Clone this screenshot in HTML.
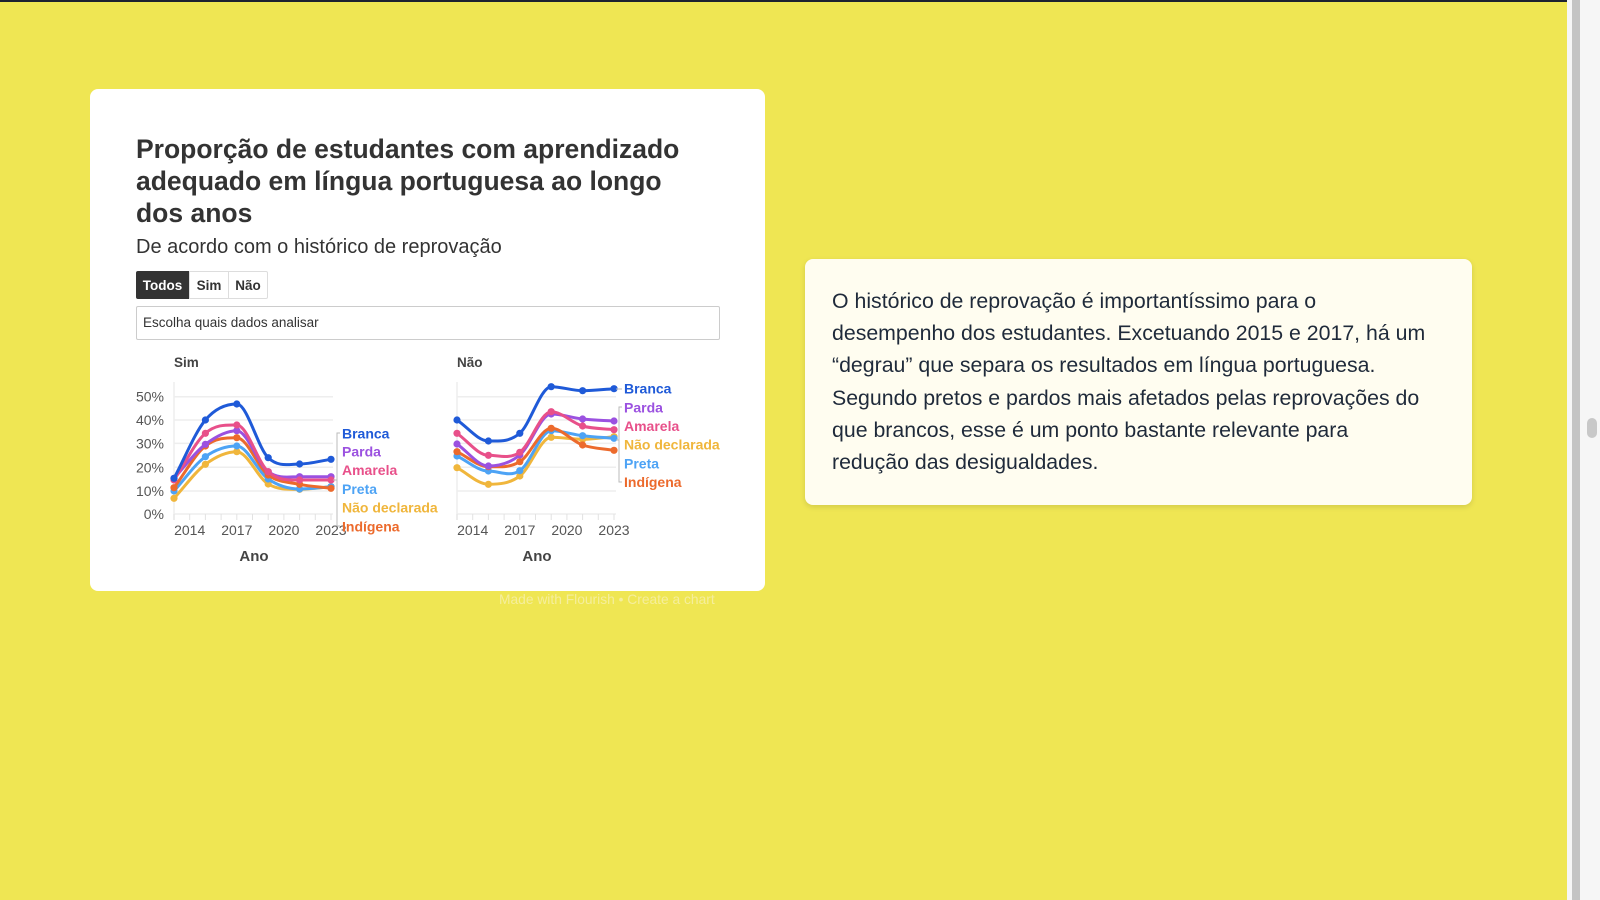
<!DOCTYPE html>
<html><head><meta charset="utf-8">
<style>
html,body{margin:0;padding:0;width:1600px;height:900px;overflow:hidden;background:#efe653;font-family:"Liberation Sans",sans-serif}
.topbar{position:absolute;left:0;top:0;width:1567px;height:2px;background:#1d2230}
.sb{position:absolute;left:1567px;top:0;width:33px;height:900px;background:#f6f6f6}
.sb1{position:absolute;left:1572px;top:0;width:8px;height:900px;background:#c4c4c4}
.thumb{position:absolute;left:1587px;top:418px;width:10px;height:20px;border-radius:5px;background:#c8c8c8}
.card{position:absolute;left:90px;top:89px;width:675px;height:502px;background:#fff;border-radius:8px}
.title{position:absolute;left:136px;top:133px;width:580px;font-size:26.5px;font-weight:bold;line-height:32px;color:#333}
.sub{position:absolute;left:136px;top:236px;font-size:20px;color:#333}
.btn{position:absolute;top:271px;height:28px;line-height:28px;font-size:13.5px;font-weight:bold;text-align:center;border:1px solid #ddd;box-sizing:border-box;color:#333;background:#fff}
.sel{position:absolute;left:136px;top:306px;width:584px;height:34px;border:1px solid #ccc;box-sizing:border-box;border-radius:2px;font-size:13.5px;line-height:32px;padding-left:6px;color:#333}
.note{position:absolute;left:805px;top:259px;width:667px;height:246px;background:#fffdf0;border-radius:8px;box-shadow:0 2px 6px rgba(0,0,0,0.12)}
.note p{position:absolute;left:27px;top:26px;margin:0;font-size:21.3px;line-height:32.2px;color:#1f2a3a;white-space:nowrap}
.made{position:absolute;left:499px;top:592px;font-size:13.8px;color:#f5ee9c}
svg{position:absolute;left:0;top:0}
</style></head><body>
<div class="topbar"></div>
<div class="card"></div>
<div class="title">Proporção de estudantes com aprendizado adequado em língua portuguesa ao longo<br>dos anos</div>
<div class="sub">De acordo com o histórico de reprovação</div>
<div class="btn" style="left:136px;width:53px;background:#333;color:#fff;border-color:#333;border-radius:2px 0 0 2px">Todos</div>
<div class="btn" style="left:189px;width:40px">Sim</div>
<div class="btn" style="left:228px;width:40px;border-radius:0 2px 2px 0">Não</div>
<div class="sel">Escolha quais dados analisar</div>
<svg id="ch" width="1600" height="900" font-family="Liberation Sans, sans-serif"></svg>
<div class="note"><p>O histórico de reprovação é importantíssimo para o<br>desempenho dos estudantes. Excetuando 2015 e 2017, há um<br>“degrau” que separa os resultados em língua portuguesa.<br>Segundo pretos e pardos mais afetados pelas reprovações do<br>que brancos, esse é um ponto bastante relevante para<br>redução das desigualdades.</p></div>
<div class="made">Made with Flourish • Create a chart</div>
<div class="sb"></div><div class="sb1"></div><div class="thumb"></div>
<script>
var s='';
var C={br:'#1f5ad8',pa:'#9b51e0',am:'#e8508a',pr:'#4da3f5',nd:'#f0b63c',in:'#ec6a2c'};
function path(xs,ys){
  var n=xs.length,m=[];
  for(var i=0;i<n;i++){
    if(i==0)m.push((ys[1]-ys[0])/(xs[1]-xs[0]));
    else if(i==n-1)m.push((ys[n-1]-ys[n-2])/(xs[n-1]-xs[n-2]));
    else{var a=(ys[i]-ys[i-1])/(xs[i]-xs[i-1]),b=(ys[i+1]-ys[i])/(xs[i+1]-xs[i]);m.push(a*b<=0?0:(a+b)/2);}
  }
  var d='M'+xs[0]+' '+ys[0];
  for(var i=0;i<n-1;i++){var h=(xs[i+1]-xs[i])/3;
    d+=' C'+(xs[i]+h)+' '+(ys[i]+m[i]*h)+' '+(xs[i+1]-h)+' '+(ys[i+1]-m[i+1]*h)+' '+xs[i+1]+' '+ys[i+1];}
  return d;
}
function panel(x0,data,labels,title,ylab){
  var xs=[];for(var i=0;i<6;i++)xs.push(x0+31.4*i);
  var gy=[396.7,420,443.4,467.3,491];
  gy.forEach(function(y){s+='<line x1="'+x0+'" x2="'+(x0+159)+'" y1="'+y+'" y2="'+y+'" stroke="#eee" stroke-width="1.5"/>';});
  s+='<line x1="'+x0+'" x2="'+x0+'" y1="382" y2="520" stroke="#eee" stroke-width="1.5"/>';
  s+='<line x1="'+x0+'" x2="'+(x0+159)+'" y1="514" y2="514" stroke="#eee" stroke-width="1.5"/>';
  for(var i=0;i<=10;i++){var x=x0+15.7*i;s+='<line x1="'+x+'" x2="'+x+'" y1="514" y2="520" stroke="#e2e2e2"/>';}
  if(ylab){['50%','40%','30%','20%','10%','0%'].forEach(function(t,i){var y=[396.7,420,443.4,467.3,491,514][i];s+='<text x="164" y="'+(y+5)+'" text-anchor="end" font-size="14" fill="#555">'+t+'</text>';});}
  ['2014','2017','2020','2023'].forEach(function(t,i){s+='<text x="'+(x0+15.7+47.1*i)+'' +'" y="535" text-anchor="middle" font-size="14" fill="#555">'+t+'</text>';});
  s+='<text x="'+(x0+80)+'" y="561" text-anchor="middle" font-size="15" font-weight="bold" fill="#444">Ano</text>';
  s+='<text x="'+x0+'" y="367" font-size="13.5" font-weight="bold" fill="#444">'+title+'</text>';
  data.forEach(function(dd){
    s+='<path d="'+path(xs,dd[1])+'" fill="none" stroke="'+C[dd[0]]+'" stroke-width="3"/>';
    dd[1].forEach(function(y,i){s+='<circle cx="'+xs[i]+'" cy="'+y+'" r="3.6" fill="'+C[dd[0]]+'"/>';});
  });
  labels.forEach(function(l){s+='<text x="'+l[2]+'" y="'+(l[1]+5)+'" font-size="14" font-weight="bold" fill="'+C[l[0]]+'">'+l[3]+'</text>';});
}
panel(174,[
 ['nd',[498.3,464.3,451.7,484,489.3,486.7]],
 ['pr',[491,456.7,446,479,489,486.7]],
 ['in',[487.7,446,437.7,475,484.3,488.3]],
 ['pa',[478.3,444.3,430.7,471.7,476.7,476.7]],
 ['am',[480,433.3,425,471.7,480,480]],
 ['br',[478.3,420,404,457.7,464,459.3]]],
 [['br',433.3,342,'Branca'],['pa',451.7,342,'Parda'],['am',470,342,'Amarela'],['pr',489,342,'Preta'],['nd',507.7,342,'Não declarada'],['in',526.7,342,'Indígena']],'Sim',true);
panel(457,[
 ['nd',[467.7,484.3,476,437.3,439.3,436.7]],
 ['pr',[456,471,470.7,430.7,435.7,438.3]],
 ['in',[451.7,466.7,461.7,428.3,445,450.3]],
 ['pa',[444,466,455,414,419,421]],
 ['am',[433.3,455.3,452.3,411.7,426,429.7]],
 ['br',[420,441,433.3,386.7,390.7,388.7]]],
 [['br',388.7,624,'Branca'],['pa',407.3,624,'Parda'],['am',426,624,'Amarela'],['nd',444.7,624,'Não declarada'],['pr',463.3,624,'Preta'],['in',482,624,'Indígena']],'Não',false);
s+='<path d="M340 433 H337 V526 H340 M337 480 H333" fill="none" stroke="#bbb"/>';
s+='<path d="M622 407 H619 V482 H622 M619 440 H616 M616 389 H622" fill="none" stroke="#bbb"/>';
document.getElementById('ch').innerHTML=s;
</script>
</body></html>
